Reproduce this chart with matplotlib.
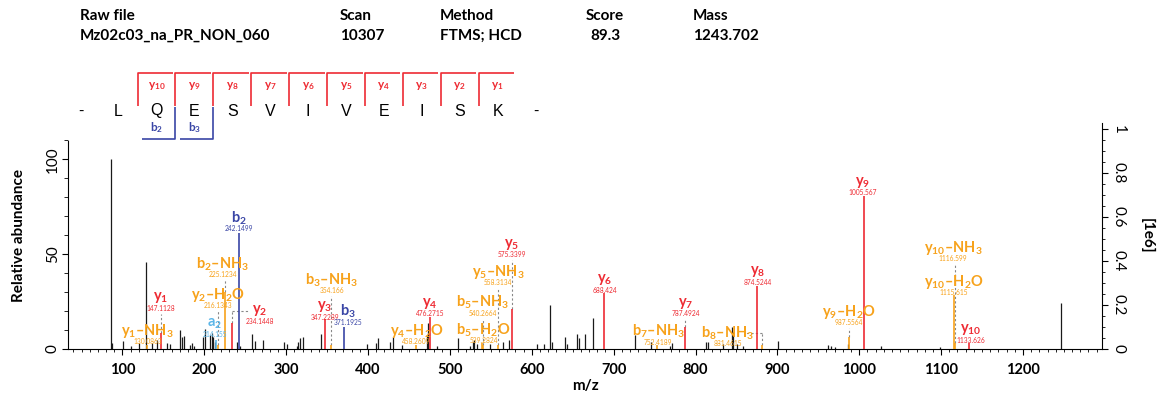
import matplotlib
matplotlib.use("Agg")
import matplotlib.pyplot as plt
from matplotlib.ticker import MultipleLocator, FuncFormatter

plt.rcParams['font.family'] = ['Lato', 'DejaVu Sans']
plt.rcParams['mathtext.fontset'] = 'custom'
plt.rcParams['mathtext.rm'] = 'Lato'
plt.rcParams['mathtext.bf'] = 'Lato:bold'
plt.rcParams['mathtext.it'] = 'Lato:italic'

# ---- data ----
header_keys = ["Raw file", "Scan", "Method", "Score", "Mass"]
header_vals = ["Mz02c03_na_PR_NON_060", "10307", "FTMS; HCD", "89.3", "1243.702"]

sequence = "LQESVIVEISK"
y_seen = [10, 9, 8, 7, 6, 5, 4, 3, 2, 1]
b_seen = [2, 3]

# unassigned peaks (m/z, relative abundance %)
peak_mz = [86.1, 87.1, 101.1, 110.1, 120.1, 129.1, 136.1, 141.8, 154.8, 158.1,
           170.1, 172.3, 175.2, 183.1, 184.5, 187.1, 198.8, 201.4, 207.1, 209.1,
           211.1, 213.1, 240.1, 244.1, 258.2, 262.1, 272.2, 297.2, 300.6, 313.2,
           314.8, 317.0, 320.2, 342.8, 399.1, 409.7, 412.5, 426.8, 430.1, 441.2,
           472.4, 473.7, 483.9, 510.3, 524.6, 528.6, 529.8, 532.7, 549.0, 564.5,
           572.6, 606.8, 615.0, 622.3, 625.0, 640.6, 642.7, 655.6, 658.0, 665.0,
           674.4, 726.1, 745.3, 769.0, 771.7, 812.8, 815.7, 833.3, 844.2, 845.6,
           850.4, 858.5, 901.2, 962.3, 965.0, 970.0, 985.9, 1026.6, 1098.7, 1246.2]
peak_int = [100, 3.2, 4.2, 1.5, 2.8, 45.9, 3.0, 4.4, 3.2, 2.5,
            9.9, 6.3, 6.7, 2.2, 2.8, 1.5, 6.0, 10.5, 7.5, 8.3,
            6.4, 3.5, 3.6, 1.5, 8.0, 4.3, 4.5, 3.3, 2.5, 1.5,
            3.6, 5.4, 6.2, 7.8, 2.6, 3.0, 5.8, 3.5, 6.2, 1.8,
            7.5, 13.4, 1.2, 5.8, 1.5, 3.5, 4.4, 2.6, 2.6, 3.3,
            4.8, 2.6, 2.3, 22.9, 3.5, 6.2, 2.5, 7.9, 5.8, 7.6,
            16.1, 7.0, 3.6, 1.2, 3.2, 3.5, 3.5, 2.3, 11.4, 9.0,
            2.3, 1.2, 3.9, 2.0, 1.2, 1.0, 2.3, 1.4, 1.0, 24.3]

# assigned fragment ions: (type, number, neutral loss)
ion_type = ["y", "y", "a", "y", "b", "y", "b", "y", "b", "b",
            "y", "y", "b", "b", "y", "y", "y", "b", "y",
            "y", "b", "y", "y", "y", "y", "y"]
ion_num = [1, 1, 2, 2, 2, 2, 2, 3, 3, 3,
           4, 4, 5, 5, 5, 5, 6, 7, 7,
           8, 8, 9, 9, 10, 10, 10]
ion_loss = ["NH3", "", "", "H2O", "NH3", "", "", "", "NH3", "",
            "H2O", "", "H2O", "NH3", "NH3", "", "", "NH3", "",
            "", "NH3", "H2O", "", "H2O", "NH3", ""]
ion_mz_text = ["130.0863", "147.1128", "214.155", "216.1343", "225.1234", "234.1448",
               "242.1499", "347.2289", "354.166", "371.1925", "458.2609", "476.2715",
               "539.2824", "540.2664", "558.3134", "575.3399", "688.424", "752.4189",
               "787.4924", "874.5244", "881.4615", "987.5564", "1005.567", "1115.615",
               "1116.599", "1133.626"]
ion_int = [2.0, 8.1, 4.5, 2.0, 30.0, 13.7, 61.2, 15.5, 2.0, 11.3,
           2.0, 16.6, 3.0, 2.0, 2.0, 21.0, 29.6, 2.0, 11.6,
           33.3, 2.0, 6.3, 80.6, 28.3, 3.0, 2.8]
ion_mz = [float(s) for s in ion_mz_text]

base_intensity = 0.862  # [1e6] of the 100 % peak

# ---- layout: label anchor (m/z, height %) of each ion name ----
label_xy = [(131, 9.5), (147, 26.8), (213, 13.0), (216.7, 28.4), (222.8, 44.7),
            (268, 20.1), (242, 69.0), (347, 22.2), (355.6, 36.3), (375.5, 19.5),
            (459.4, 9.5), (475.7, 24.0), (541, 9.9), (540.4, 24.3), (558.8, 40.7),
            (576, 55.3), (689.5, 36.6), (754.6, 9.0), (788.4, 24.0),
            (876.4, 40.7), (839.4, 8.4), (987.6, 19.2), (1004.6, 87.9), (1115, 35.4),
            (1114.6, 53.0), (1136.2, 10.2)]

RED, BLUE, ORANGE, CYAN = "#ee2b33", "#3a46a6", "#f7a21b", "#5cb6e8"


def sub_digits(s):
    return "".join("_{" + c + "}" if c.isdigit() else c for c in s)


def ion_label(t, k, loss=""):
    s = t + "_{" + str(k) + "}"
    if loss:
        s += "–" + sub_digits(loss)
    return r"$\mathbf{" + s + "}$"


def ion_color(t, loss):
    if loss:
        return ORANGE
    return {"y": RED, "b": BLUE, "a": CYAN}[t]


fig = plt.figure(figsize=(11.65, 4.01), dpi=100)

# pixel-space overlay for header and sequence map
pan = fig.add_axes([0, 0, 1, 1], zorder=0)
pan.set_xlim(0, 1165)
pan.set_ylim(401, 0)
pan.axis("off")
for k, v, x in zip(header_keys, header_vals, [80, 340, 440, 586, 693]):
    pan.text(x, 16, k, fontsize=11, fontweight="bold", va="center")
    pan.text(x + (4 if k == "Score" else 0), 36, v, fontsize=11, fontweight="bold", va="center")

letters = ["-"] + list(sequence) + ["-"]
step = 37.9
xs = [80.7 + step * i for i in range(len(letters))]
for x, c in zip(xs, letters):
    pan.text(x, 111, c, fontsize=11.5, family="Liberation Sans", ha="center", va="center")
n = len(sequence)
for k in y_seen:
    xc = xs[n - k + 1]
    b = xc - step / 2
    pan.plot([b, b, b + 35.5], [106, 73, 73], color=RED, lw=1.2, solid_capstyle="butt")
    pan.text(xc, 86, ion_label("y", k), color=RED, fontsize=8.5, ha="center", va="center")
for k in b_seen:
    xc = xs[k]
    b = xc + step / 2
    pan.plot([b - 33, b, b], [139, 139, 107], color=BLUE, lw=1.2, solid_capstyle="butt")
    pan.text(xc, 128, ion_label("b", k), color=BLUE, fontsize=8.5, ha="center", va="center")

# ---- spectrum ----
ax = fig.add_axes([0.05837, 0.1304, 0.8876, 0.5628], zorder=1)
ax.patch.set_alpha(0)
ytop = 119.2
ax.set_xlim(33.5, 1296.6)
ax.set_ylim(0, ytop)
ax.vlines(peak_mz, 0, peak_int, color="#1a1a1a", lw=0.9)
colors = [ion_color(t, l) for t, l in zip(ion_type, ion_loss)]
ax.vlines(ion_mz, 0, ion_int, color=colors, lw=1.2, zorder=3)

dash = dict(color="#888888", lw=0.8, ls=(0, (2, 2)), zorder=2)
for t, k, l, txt, mz, it, (lx, ly), col in zip(ion_type, ion_num, ion_loss, ion_mz_text,
                                                ion_mz, ion_int, label_xy, colors):
    ax.text(lx, ly, ion_label(t, k, l), color=col, fontsize=10.5, ha="center", va="center")
    ax.text(lx, ly - 5.6, txt, color=col, fontsize=4.8, ha="center", va="center")
    if abs(lx - mz) > 8:
        ax.plot([mz, mz], [it, ly], **dash)
        end = lx - 14 if lx > mz else lx + 22
        ax.plot([mz, end], [ly, ly], **dash)
    elif ly - 8.4 > it + 1:
        ax.plot([mz, mz], [it, ly - 8.4], **dash)

for s in ["top", "right"]:
    ax.spines[s].set_visible(False)
ax.spines["left"].set_bounds(0, 109.7)
ax.xaxis.set_major_locator(MultipleLocator(100))
ax.xaxis.set_minor_locator(MultipleLocator(10))
ax.set_yticks([0, 50, 100])
ax.yaxis.set_minor_locator(MultipleLocator(10))
ax.tick_params(axis="x", which="major", length=4, labelsize=10.5, pad=6)
ax.tick_params(axis="x", which="minor", length=2.5)
ax.tick_params(axis="y", which="major", length=4, labelsize=11, pad=2)
ax.tick_params(axis="y", which="minor", length=3)
for t in ax.get_xticklabels():
    t.set_fontweight("bold")
for t in ax.get_yticklabels():
    t.set_rotation(90)
    t.set_va("center")
ax.set_xlabel("m/z", fontsize=11, fontweight="bold", labelpad=2)
ax.set_ylabel("Relative abundance", fontsize=11, fontweight="bold", labelpad=14)

ax2 = ax.twinx()
ax2.set_ylim(0, ytop * base_intensity / 100)
for s in ["top", "left", "bottom"]:
    ax2.spines[s].set_visible(False)
ax2.yaxis.set_major_locator(MultipleLocator(0.2))
ax2.yaxis.set_minor_locator(MultipleLocator(0.05))
ax2.yaxis.set_major_formatter(FuncFormatter(lambda v, p: f"{v:g}"))
ax2.tick_params(axis="y", which="major", length=4, labelsize=11, pad=3)
ax2.tick_params(axis="y", which="minor", length=2.5)
for t in ax2.get_yticklabels():
    t.set_rotation(270)
    t.set_va("center")
ax2.set_ylabel("[1e6]", fontsize=11, fontweight="bold", rotation=270, labelpad=20)

fig.savefig("out.png", dpi=100)
